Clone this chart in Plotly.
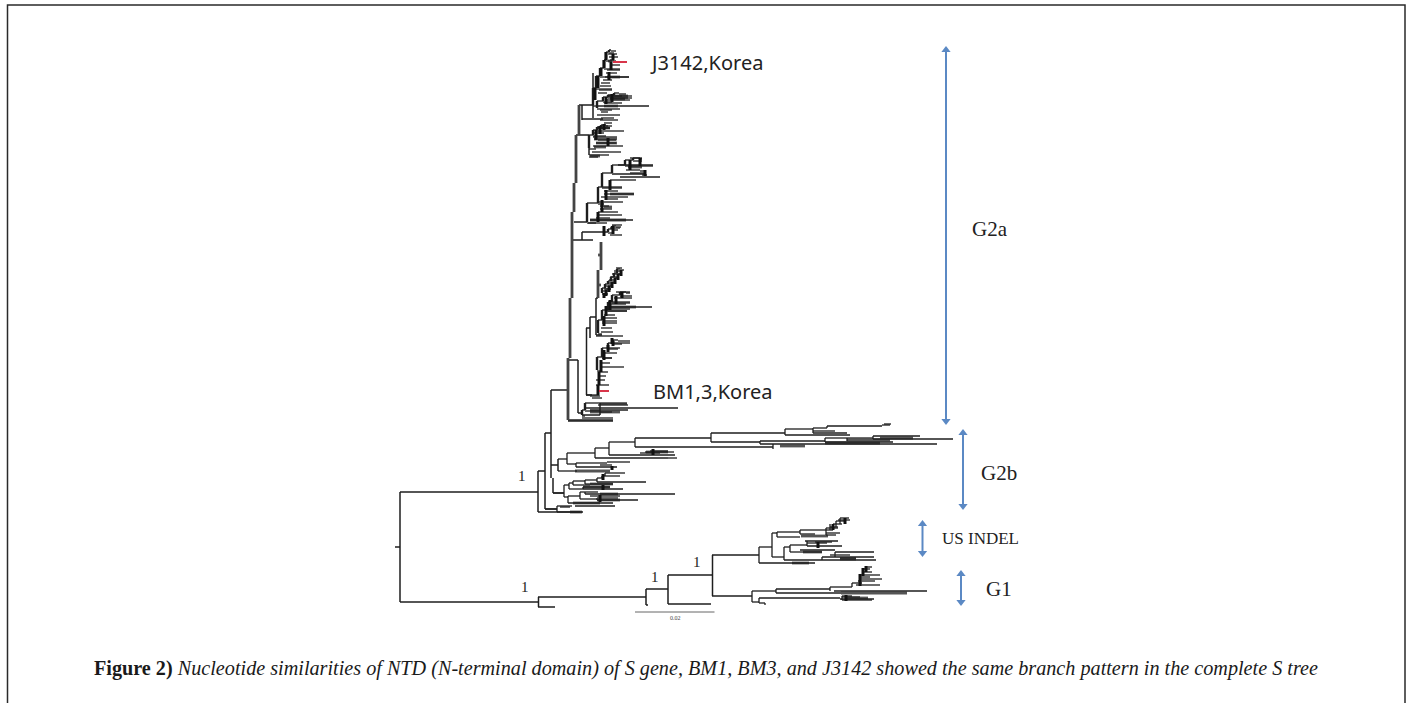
import plotly.graph_objects as go

# Values. Branches are in the picture's own units.
# (y, x_start, x_end)
BACKBONE_H = [
 (492,400,538),(602,400,538),(597,538,646),(607,538,555),(589,646,668),(605,646,648),
 (575,668,712),(604,668,711),(555,712,759),(596,712,752),
 (471,538,545),(512,538,583),(433,545,551),(509,545,557),(390,551,568),(465,551,558),(493,553,564),
 (360,568,578),(328,586,590),(395,586,592),(317,590,596),(298,596,598),(335,596,602),
 (105,579,593),(119,582,603),(135,576,589),(222,574,587),(232,582,608),(240,573,593),
 (413,578,582),(415,582,600),(420,568,613),
]
# (x, y_start, y_end)
BACKBONE_V = [
 (400,492,602),(538,471,512),(538.5,597,607),(646,589,605),(668,575,604),(712.5,555,596),
 (545,433,509),(551,390,478),(553,478,493),(558,459,471),
 (578,360,413),(586.5,328,395),(590,317,338),(596,298,335),
 (582,232,240),(589,137,155),(593,73,118),(582,105,120),(600,403,415),
]
TRUNK_V = [
 (568,358,420),(570,298,358),(572,212,298),(574,183,212),(576,135,183),(579,105,135),
 (598,270,298),(601,242,270),
]
ROOT_TICK = (547,395,400)

# caterpillar clades: (node_x, node_y, tip_end_x)
CLADE_A = [(593,105,597),(596,88,612),(600,76,629),(604,68,620),(606,60,616),(609,52,614),(611,50,616)]
CLADE_A_TIPS = [(54,608,617),(57,609,618),(60,610,614),(65,612,620),(70,607,620),(73,606,617),(77,605,629),(80,603,612),
 (83,601,610),(86,600,611),(90,599,612),(93,598,607)]
CLADE_B = [(597,108,620),(603,101,612),(608,97,632),(614,95,622),(619,93,626)]
CLADE_B_TIPS = [(96,608,632),(98,610,628),(100,606,630),(103,604,622),(106,597,649),(110,600,612),(112,601,608),(115,597,620),(118,601,614),(120,600,618)]
CLADE_C = [(589,148,596),(593,135,606),(597,130,624),(601,127,610),(606,125,612)]
CLADE_C_TIPS = [(123,604,612),(126,600,608),(128,598,610),(133,594,604),(137,593,617),(140,598,616),(143,596,616),(146,593,623),(152,592,621),(155,589,609),(157,589,598)]
CLADE_D = [(587,222,596),(598,203,604),(602,187,622),(612,173,645),(625,165,653),(633,160,642),(640,158,642)]
CLADE_D_TIPS = [(158,630,642),(165,618,653),(170,626,640),(173,630,645),(171,640,646),(175,642,647),(177,620,660),(180,610,636),
 (187,602,622),(191,604,618),(194,604,634),(197,601,628),(199,606,618),(202,599,623),(206,600,609),(209,600,612),(212,598,618),(215,598,622),(218,596,610),(220,590,633),(223,588,607)]
CLADE_E = [(608,232,614),(612,229,618),(616,226,621)]
CLADE_E_TIPS = [(225,612,622),(228,610,620),(235,610,622)]
CLADE_F = [(602,293,606),(605,288,611),(608,284,613),(611,281,616),(614,277,618),(617,273,621),(620,269,624)]
CLADE_F_TIPS = [(268,616,622),(271,614,621),(274,612,620),(277,610,618),(280,609,616),(283,607,615),(286,606,613),(289,604,611),(291,603,610),(294,603,608)]
CLADE_G = [(598,333,602),(602,320,617),(608,310,627),(612,302,630),(620,295,632),(626,292,630)]
CLADE_G_TIPS = [(292,616,630),(298,614,632),(302,612,630),(304,610,626),(307,606,652),(309,606,630),(311,605,627),(315,604,615),(318,603,617),(323,602,617),(328,601,612),(332,601,613),(336,596,623)]
CLADE_H = [(597,370,600),(602,357,612),(608,348,618),(613,343,622),(618,340,630)]
CLADE_H_TIPS = [(343,612,630),(348,608,620),(353,604,617),(358,602,612),(363,600,610),(367,600,624),(372,598,608),(376,598,606),(380,596,605),(385,596,609)]
CLADE_I = [(582,415,585),(585,410,600),(600,403,627)]
CLADE_I_TIPS = [(403,600,627),(405,598,628),(408,585,678),(410,590,628),(412,600,612),(418,582,613),(421,568,613)]
CLADE_BM_TIPS = [(395,586,599),(396,590,600),(398,592,602)]
G2B_H = [
 (459,558,567),(471,558,577),(453,567,595),(464,567,576),(463,576,607),(462,607,630),(467,576,617),(465,600,612),
 (448,595,609),(458,595,668),(458,668,677),(455,609,675),(453,640,660),(451,650,668),(452,645,674),
 (442,609,635),(447,635,773),(438,635,711),(433,711,785),(442,711,760),(429,785,813),(435,785,850),
 (428,813,827),(426,827,882),(433,813,847),(431,813,835),(444,760,937),(441,760,825),(442,825,893),(438,847,873),(438,825,847),
 (439,873,953),(436,873,920),(425,882,890),(424,884,891),
 (493,553,564),(485,564,569),(497,564,568),(483,569,573),(489,569,583),(481,573,585),(485,573,590),(480,585,597),(484,585,613),
 (478,597,602),(482,597,646),(476,602,620),(473,605,625),(487,583,610),(489,583,623),
 (496,568,580),(503,568,613),(492,580,585),(499,580,597),(492,585,598),(494,585,675),(496,590,620),(500,597,638),(498,597,618),(506,575,615),
 (509,545,557),(506,557,572),(512,557,580),(507,560,570),
 (547,759,772),(563,759,815),(533,772,777),(557,772,784),(532,777,800),(537,777,800),(530,800,826),(534,800,815),
 (530,826,833),(527,830,838),(524,833,842),(521,836,845),(518,840,849),(520,838,850),(528,826,838),(533,826,840),(535,826,836),
 (547,784,790),(560,784,822),(545,790,807),(552,790,822),(543,807,827),(541,805,838),(542,815,832),(546,807,842),(550,800,835),
 (560,822,876),(557,822,874),(552,835,874),(555,830,850),(558,840,856),
 (591,752,776),(602,752,759),(589,776,830),(593,776,841),(587,830,852),(591,834,927),
 (583,852,862),(579,860,882),(575,860,880),(585,856,880),(581,858,875),(577,860,870),(572,862,872),(569,864,870),(567,866,872),
 (598,759,840),(603,759,765),(599,840,874),(597,842,860),(600,842,872),(596,842,852),
]
G2B_V = [
 (567,453,464),(576,463,467),(595,448,458),(609,442,455),(635,438,447),(711,433,442),(785,429,435),(813,428,433),(827,426,428),
 (760,441,444),(825,438,442),(847,438,441),(873,436,439),(773,444,449),
 (564,485,497),(569,483,489),(573,481,485),(585,480,484),(597,478,482),(602,476,478),(605,473,476),(583,487,489),
 (568,496,503),(580,492,499),(585,492,494),(597,498,500),(557,506,512),
 (759,547,563),(772,533,557),(777,532,537),(800,530,534),(826,528,535),(830,524,530),(836,521,527),(840,518,524),
 (784,547,560),(790,545,552),(807,541,546),(822,557,560),(835,552,557),
 (752,591,602),(776,589,593),(830,587,591),(852,583,587),
 (759,598,603),(842,596,600),(765,603,605),
]
GRAY_BANDS = [
 (61,608,612),(77,607,620),(96,607,628),(99,610,625),(106,604,618),(128,598,610),(139,594,617),(143,596,617),(147,594,606),(156,590,600),
 (167,628,642),(194,610,634),(207,604,612),(220,590,626),(285,598,601),(255,598,601),(307,610,636),(412,590,620),
 (446,780,805),(440,847,890),(438,880,913),(443,825,880),(452,646,668),(471,575,610),(487,583,610),(484,590,613),(494,600,618),(500,597,620),(503,573,600),(512,570,582),
 (536,801,828),(563,792,809),(552,803,822),(559,840,856),(593,841,907),(598,845,868),
]
# dark blobs along the crowded parts of the clades: (x, y_start, y_end)
BLOBS_V = [
 (606,52,60),(604,60,68),(601,68,76),(598,76,88),(595,88,100),(609,72,80),(611,62,70),(613,54,60),
 (606,97,104),(612,94,102),(600,126,134),(604,124,130),(596,130,140),(608,138,146),
 (630,160,170),(640,158,166),(645,170,176),(610,180,190),(606,190,200),(602,200,212),(598,212,222),(604,226,236),(613,226,234),
 (606,290,296),(609,286,292),(612,282,288),(615,278,284),(618,274,280),(621,270,276),(604,293,298),
 (606,306,316),(610,300,310),(616,296,304),(622,292,298),(604,316,326),(612,338,344),
 (604,350,360),(608,345,352),(613,341,346),(601,360,372),(599,372,385),(598,385,395),
 (653,449,455),(833,524,530),(845,518,524),(860,574,586),(863,568,576),(866,566,572),(846,595,601),
 (818,542,548),(603,474,480),(600,495,502),(603,485,490),(612,466,470),
]
RED_BRANCHES = [(62,613,627),(391,599,609)]
SCALE_BAR = (612,635,714.5)

# double arrows: (x, y_top, y_bottom)
G2A_ARROW = (946,47,424)
G2B_ARROW = (963,430,509)
INDEL_ARROW = (922.5,521,556)
G1_ARROW = (961,571,605)

LABELS = ["J3142,Korea","BM1,3,Korea"]
LABEL_X = [706,713]
LABEL_Y = [62,391]
GROUP_LABELS = ["G2a","G2b","US INDEL","G1"]
GROUP_X = [990,998.5,980,999]
GROUP_Y = [229,473,538.5,589]
GROUP_SIZES = [21,21,17,21]
SUPPORT = ["1","1","1","1"]
SUPPORT_X = [522,524.5,655,697]
SUPPORT_Y = [476,587,577,562]
CAPTION_BOLD = "Figure 2)"
CAPTION_ITALIC = " Nucleotide similarities of NTD (N-terminal domain) of S gene, BM1, BM3, and J3142 showed the same branch pattern in the complete S tree"
FRAME_X = [7.5,7.5,1405,1405]
FRAME_Y = [703,5,5,703]

INK = "#1e1e1e"
BLUE = "#5b89c4"
fig = go.Figure()

def h_trace(rows, color, width):
    xs, ys = [], []
    for y, a, b in rows:
        xs += [a, b, None]; ys += [y, y, None]
    fig.add_trace(go.Scatter(x=xs, y=ys, mode="lines", line=dict(color=color, width=width), hoverinfo="skip"))

def v_trace(rows, color, width):
    xs, ys = [], []
    for x, a, b in rows:
        xs += [x, x, None]; ys += [a, b, None]
    fig.add_trace(go.Scatter(x=xs, y=ys, mode="lines", line=dict(color=color, width=width), hoverinfo="skip"))

def clade(nodes, tips):
    hs, vs = [], []
    for (x0, y0, _), (x1, y1, _) in zip(nodes, nodes[1:]):
        vs.append((x0, y0, y1)); hs.append((y1, x0, x1))
    for x, y, t in nodes:
        hs.append((y + 1, x, t))
    h_trace(hs + tips, INK, 1.3)
    v_trace(vs, INK, 2.4)

h_trace(GRAY_BANDS, "#555555", 2.8)
h_trace(BACKBONE_H + [ROOT_TICK], INK, 1.5)
v_trace(BACKBONE_V, INK, 1.5)
v_trace(TRUNK_V, "#444444", 2.8)
h_trace(G2B_H, INK, 1.3)
v_trace(G2B_V, INK, 1.3)
for nodes, tips in [(CLADE_A, CLADE_A_TIPS), (CLADE_B, CLADE_B_TIPS), (CLADE_C, CLADE_C_TIPS),
                    (CLADE_D, CLADE_D_TIPS), (CLADE_E, CLADE_E_TIPS), (CLADE_F, CLADE_F_TIPS),
                    (CLADE_G, CLADE_G_TIPS), (CLADE_H, CLADE_H_TIPS), (CLADE_I, CLADE_I_TIPS)]:
    clade(nodes, tips)
h_trace(CLADE_BM_TIPS, INK, 1.3)
v_trace(BLOBS_V, "#111111", 3)
h_trace(RED_BRANCHES, "#d8354a", 2)
h_trace([SCALE_BAR], "#555555", 0.9)

for x, y0, y1 in [G2A_ARROW, G2B_ARROW, INDEL_ARROW, G1_ARROW]:
    fig.add_trace(go.Scatter(x=[x, x], y=[y0 + 3, y1 - 3], mode="lines",
                             line=dict(color=BLUE, width=2), hoverinfo="skip"))
    fig.add_trace(go.Scatter(x=[x], y=[y0 + 3], mode="markers", hoverinfo="skip",
                             marker=dict(symbol="triangle-up", size=8, color=BLUE)))
    fig.add_trace(go.Scatter(x=[x], y=[y1 - 3], mode="markers", hoverinfo="skip",
                             marker=dict(symbol="triangle-down", size=8, color=BLUE)))

fig.add_trace(go.Scatter(x=FRAME_X, y=FRAME_Y, mode="lines", line=dict(color="#2a2a2a", width=1.5), hoverinfo="skip"))

ann = []
for t, x, y in zip(LABELS, LABEL_X, LABEL_Y):
    ann.append(dict(x=x, y=y, text=t, font=dict(family="Noto Sans", size=20, color="#222222")))
for t, x, y, s in zip(GROUP_LABELS, GROUP_X, GROUP_Y, GROUP_SIZES):
    ann.append(dict(x=x, y=y, text=t, font=dict(family="Liberation Serif", size=s, color="#222222")))
for t, x, y in zip(SUPPORT, SUPPORT_X, SUPPORT_Y):
    ann.append(dict(x=x, y=y, text=t, font=dict(family="Liberation Serif", size=15, color="#222222")))
ann.append(dict(x=675, y=618, text="0.02", font=dict(family="Liberation Serif", size=6, color="#444444")))
ann.append(dict(x=705.5, y=668, text="<b>%s</b><i>%s</i>" % (CAPTION_BOLD, CAPTION_ITALIC),
                font=dict(family="Liberation Serif", size=20.2, color="#1a1a1a")))
for a in ann:
    a.update(showarrow=False, xref="x", yref="y", xanchor="center", yanchor="middle")

fig.update_layout(width=1410, height=703, margin=dict(l=0, r=0, t=0, b=0), autosize=False,
                  showlegend=False, paper_bgcolor="white", plot_bgcolor="white", annotations=ann,
                  xaxis=dict(range=[0, 1410], visible=False, fixedrange=True),
                  yaxis=dict(range=[703, 0], visible=False, fixedrange=True))
fig.write_html("out.html", post_script="document.body.style.margin='0';document.body.style.overflow='hidden';",
               config=dict(displayModeBar=False))
